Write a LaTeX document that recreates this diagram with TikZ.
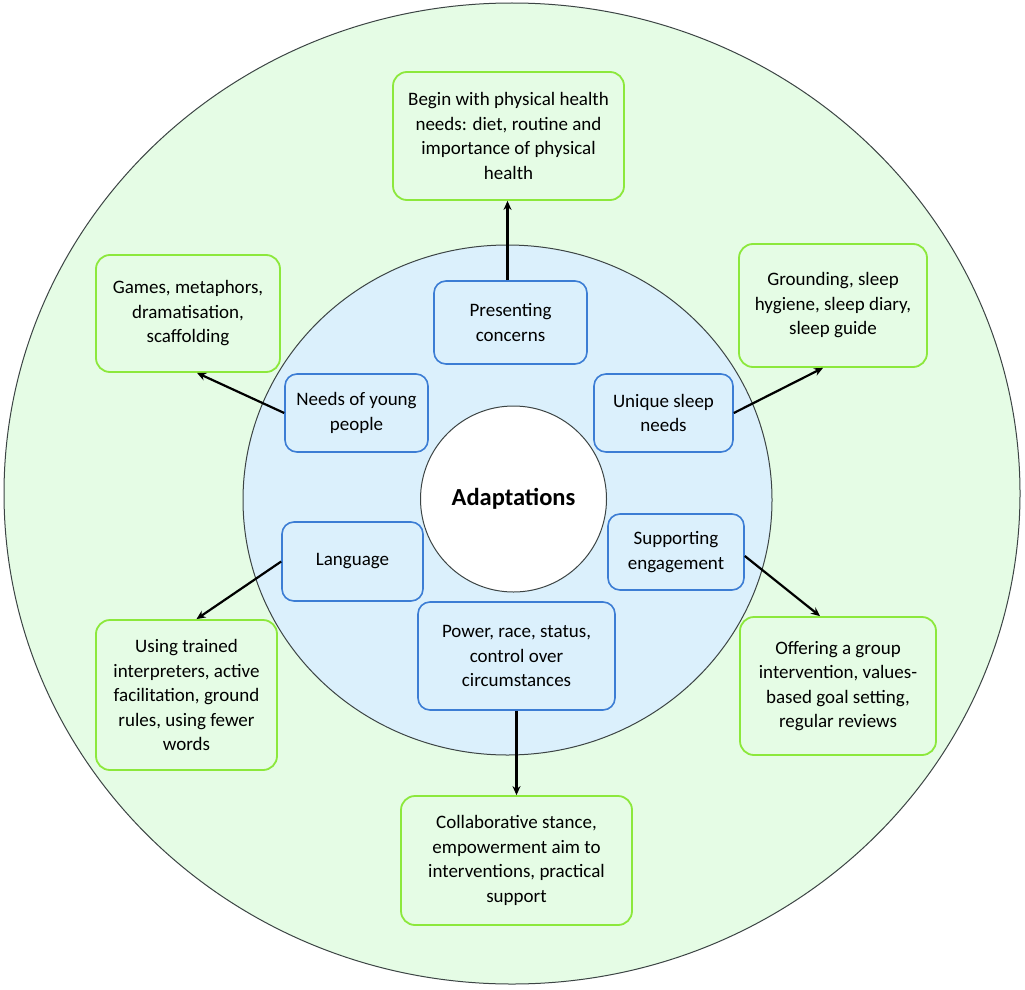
\documentclass[tikz,border=0pt]{standalone}
\usepackage{fontspec}
\setmainfont{Carlito}
\usetikzlibrary{arrows.meta,shapes.geometric}
\definecolor{outerfill}{RGB}{229,252,229}
\definecolor{innerfill}{RGB}{219,240,252}
\definecolor{bluebord}{RGB}{60,125,212}
\definecolor{greenbord}{RGB}{140,232,60}
\definecolor{ringline}{RGB}{60,68,68}
\tikzset{
  bluebox/.style={draw=bluebord, fill=innerfill, line width=1.6pt, rounded corners=12pt,
    align=center, inner sep=0pt, font=\fontsize{19}{24.5}\selectfont},
  greenbox/.style={draw=greenbord, fill=outerfill, line width=1.8pt, rounded corners=14pt,
    align=center, inner sep=0pt, font=\fontsize{19}{24.5}\selectfont},
  conn/.style={line width=2.2pt, -{Stealth[length=9pt,width=8pt]}},
  ring/.style={draw=ringline, line width=1pt}
}
\begin{document}
\begin{tikzpicture}[x=1pt,y=-1pt]
\useasboundingbox (0,0) rectangle (1025,990);
\fill[white] (0,0) rectangle (1025,990);
% rings
\node[ring, fill=outerfill, ellipse, minimum width=1016pt, minimum height=981pt, inner sep=0pt] (outer) at (512,493.5) {};
\node[ring, fill=innerfill, ellipse, minimum width=529pt, minimum height=510pt, inner sep=0pt] (inner) at (507.5,500) {};
\node[ring, fill=white, circle, minimum size=186pt, inner sep=0pt, font=\fontsize{24.5}{28}\selectfont\bfseries] (core) at (513.5,499) {Adaptations};
% blue boxes
\node[bluebox, minimum width=153pt, minimum height=83pt] (pc) at (510.5,322.5) {Presenting\\concerns};
\node[bluebox, minimum width=143pt, minimum height=78pt] (ny) at (356.5,413) {Needs of young\\people};
\node[bluebox, minimum width=141pt, minimum height=79pt] (lang) at (352.5,561.5) {Language};
\node[bluebox, minimum width=139pt, minimum height=78pt] (us) at (663.5,413) {Unique sleep\\needs};
\node[bluebox, minimum width=136pt, minimum height=76pt] (se) at (676,552) {Supporting\\engagement};
\node[bluebox, minimum width=197pt, minimum height=108pt] (pw) at (516.5,656) {Power, race, status,\\control over\\circumstances};
% green boxes
\node[greenbox, minimum width=231pt, minimum height=128pt] (phys) at (508.5,136) {Begin with physical health\\needs: diet, routine and\\importance of physical\\health};
\node[greenbox, minimum width=184pt, minimum height=117pt] (games) at (188,313.5) {Games, metaphors,\\dramatisation,\\scaffolding};
\node[greenbox, minimum width=188pt, minimum height=123pt] (ground) at (833,305.5) {Grounding, sleep\\hygiene, sleep diary,\\sleep guide};
\node[greenbox, minimum width=196pt, minimum height=138pt] (offer) at (838,686) {Offering a group\\intervention, values-\\based goal setting,\\regular reviews};
\node[greenbox, minimum width=181pt, minimum height=150pt] (using) at (186.5,695) {Using trained\\interpreters, active\\facilitation, ground\\rules, using fewer\\words};
\node[greenbox, minimum width=231pt, minimum height=129pt] (collab) at (516.5,860.5) {Collaborative stance,\\empowerment aim to\\interventions, practical\\support};
% connectors
\draw[conn] ([xshift=-3pt]pc.north) -- ([xshift=-3pt]pc.north |- phys.south);
\draw[conn] (ny.west) -- ([xshift=9pt]games.south);
\draw[conn] (us.east) -- ([xshift=-10pt]ground.south);
\draw[conn] ([yshift=-4pt]se.east) -- ([xshift=-18pt]offer.north);
\draw[conn] (lang.west) -- ([xshift=10pt]using.north);
\draw[conn] (pw.south) -- (collab.north);
\end{tikzpicture}
\end{document}
